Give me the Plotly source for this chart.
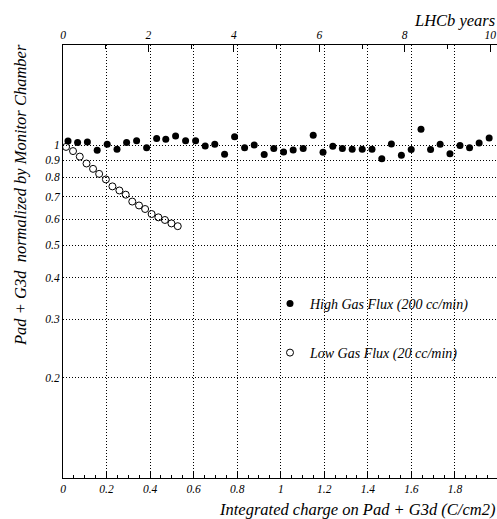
import plotly.graph_objects as go

# High gas flux (200 cc/min): integrated charge (C/cm2) and normalized ratio
high_x = [0.023, 0.067, 0.112, 0.157, 0.203, 0.248, 0.292, 0.338, 0.384, 0.430,
          0.472, 0.517, 0.563, 0.609, 0.653, 0.697, 0.742, 0.788, 0.834, 0.878,
          0.924, 0.968, 1.013, 1.057, 1.103, 1.149, 1.194, 1.239, 1.283, 1.328,
          1.374, 1.419, 1.464, 1.508, 1.554, 1.599, 1.644, 1.688, 1.732, 1.777,
          1.823, 1.867, 1.911, 1.957]
high_y = [1.030, 1.019, 1.023, 0.965, 1.006, 0.972, 1.018, 1.031, 0.983, 1.048,
          1.041, 1.065, 1.032, 1.031, 0.994, 1.006, 0.939, 1.060, 0.983, 1.002,
          0.937, 0.978, 0.954, 0.968, 0.978, 1.071, 0.952, 0.993, 0.978, 0.972,
          0.972, 0.972, 0.911, 1.008, 0.933, 0.970, 1.116, 0.970, 1.007, 0.942,
          0.997, 0.983, 1.016, 1.051]

# Low gas flux (20 cc/min)
low_x = [0.014, 0.046, 0.077, 0.108, 0.138, 0.166, 0.197, 0.227, 0.259, 0.288,
         0.318, 0.349, 0.377, 0.407, 0.438, 0.468, 0.498, 0.527]
low_y = [0.988, 0.960, 0.924, 0.881, 0.849, 0.820, 0.789, 0.752, 0.731, 0.710,
         0.677, 0.659, 0.643, 0.621, 0.607, 0.596, 0.582, 0.571]

y_ticks = [0.2, 0.3, 0.4, 0.5, 0.6, 0.7, 0.8, 0.9, 1.0]
y_ticktext = ["0.2", "0.3", "0.4", "0.5", "0.6", "0.7", "0.8", "0.9", "1"]
x_ticks = [0, 0.2, 0.4, 0.6, 0.8, 1.0, 1.2, 1.4, 1.6, 1.8]
x_ticktext = ["0", "0.2", "0.4", "0.6", "0.8", "1", "1.2", "1.4", "1.6", "1.8"]
year_ticks = [0, 2, 4, 6, 8, 10]
year_ticktext = ["0", "2", "4", "6", "8", "10"]

FONT = "Liberation Serif"
W, H = 497, 519
ML, MR, MT, MB = 63, 0, 45, 41
PW, PH = W - ML - MR, H - MT - MB


def ital(labels):
    return ["<i>%s</i>" % s for s in labels]


fig = go.Figure()
fig.add_trace(go.Scatter(
    x=high_x, y=high_y, mode="markers", name="<i>High Gas Flux (200 cc/min)</i>",
    marker=dict(symbol="circle", size=7, color="black"),
    legend="legend"))
fig.add_trace(go.Scatter(
    x=low_x, y=low_y, mode="markers", name="<i>Low Gas Flux (20 cc/min)</i>",
    marker=dict(symbol="circle-open", size=7, color="black", line=dict(width=1, color="black")),
    legend="legend2"))
fig.add_trace(go.Scatter(x=[], y=[], xaxis="x2", showlegend=False, hoverinfo="skip"))

tickfont = dict(family=FONT, size=11.5, color="black")
legfont = dict(family=FONT, size=14, color="black")

fig.update_layout(
    width=W, height=H,
    margin=dict(l=ML, r=MR, t=MT, b=MB, pad=0),
    paper_bgcolor="white", plot_bgcolor="white",
    font=dict(family=FONT, color="black"),
    xaxis=dict(
        range=[0, 1.993], tickvals=x_ticks, ticktext=ital(x_ticktext),
        ticks="inside", ticklen=6, tickcolor="black", tickwidth=1,
        tickfont=tickfont, showline=True, linecolor="black", linewidth=1,
        showgrid=True, gridcolor="black", griddash="1px,2px", gridwidth=1,
        zeroline=False,
        minor=dict(dtick=0.05, tick0=0, ticks="inside", ticklen=3, tickcolor="black", showgrid=False),
    ),
    xaxis2=dict(
        overlaying="x", side="top", anchor="y", range=[0, 10.16],
        tickvals=year_ticks, ticktext=ital(year_ticktext),
        ticks="inside", ticklen=7, tickcolor="black", tickwidth=1,
        tickfont=tickfont, showline=True, linecolor="black", linewidth=1,
        showgrid=False, zeroline=False,
        minor=dict(dtick=1, tick0=0, ticks="inside", ticklen=4, tickcolor="black", showgrid=False),
    ),
    yaxis=dict(
        type="log", range=[-1.0, 0.301], tickvals=y_ticks, ticktext=ital(y_ticktext),
        ticks="", tickfont=tickfont, showline=True, linecolor="black", linewidth=1,
        showgrid=True, gridcolor="black", griddash="1px,2px", gridwidth=1,
        zeroline=False,
    ),
    legend=dict(x=(270 - ML) / PW, y=(H - MB - 304) / PH,
                xanchor="left", yanchor="middle", bgcolor="rgba(0,0,0,0)",
                font=legfont),
    legend2=dict(x=(270 - ML) / PW, y=(H - MB - 353) / PH,
                 xanchor="left", yanchor="middle", bgcolor="rgba(0,0,0,0)",
                 font=legfont),
    showlegend=True,
)

titlefont = dict(family=FONT, size=16.5, color="black")
fig.add_annotation(text="<i>Integrated charge on Pad + G3d (C/cm2)</i>", xref="paper", yref="paper",
                   x=1.0, y=-(509 - (H - MB)) / PH, xanchor="right", yanchor="middle",
                   showarrow=False, font=titlefont)
fig.add_annotation(text="<i>LHCb years</i>", xref="paper", yref="paper",
                   x=1.0, y=1 + (MT - 21) / PH, xanchor="right", yanchor="middle",
                   showarrow=False, font=titlefont)
fig.add_annotation(text="<i>Pad + G3d  normalized by Monitor Chamber</i>", xref="paper", yref="paper",
                   x=-(ML - 20) / PW, y=1 + (MT - 42) / PH,
                   xanchor="center", yanchor="top", textangle=-90,
                   showarrow=False, font=titlefont)

fig.write_html("out.html", config={"displayModeBar": False},
               post_script="document.body.style.margin='0';document.body.style.overflow='hidden';")
